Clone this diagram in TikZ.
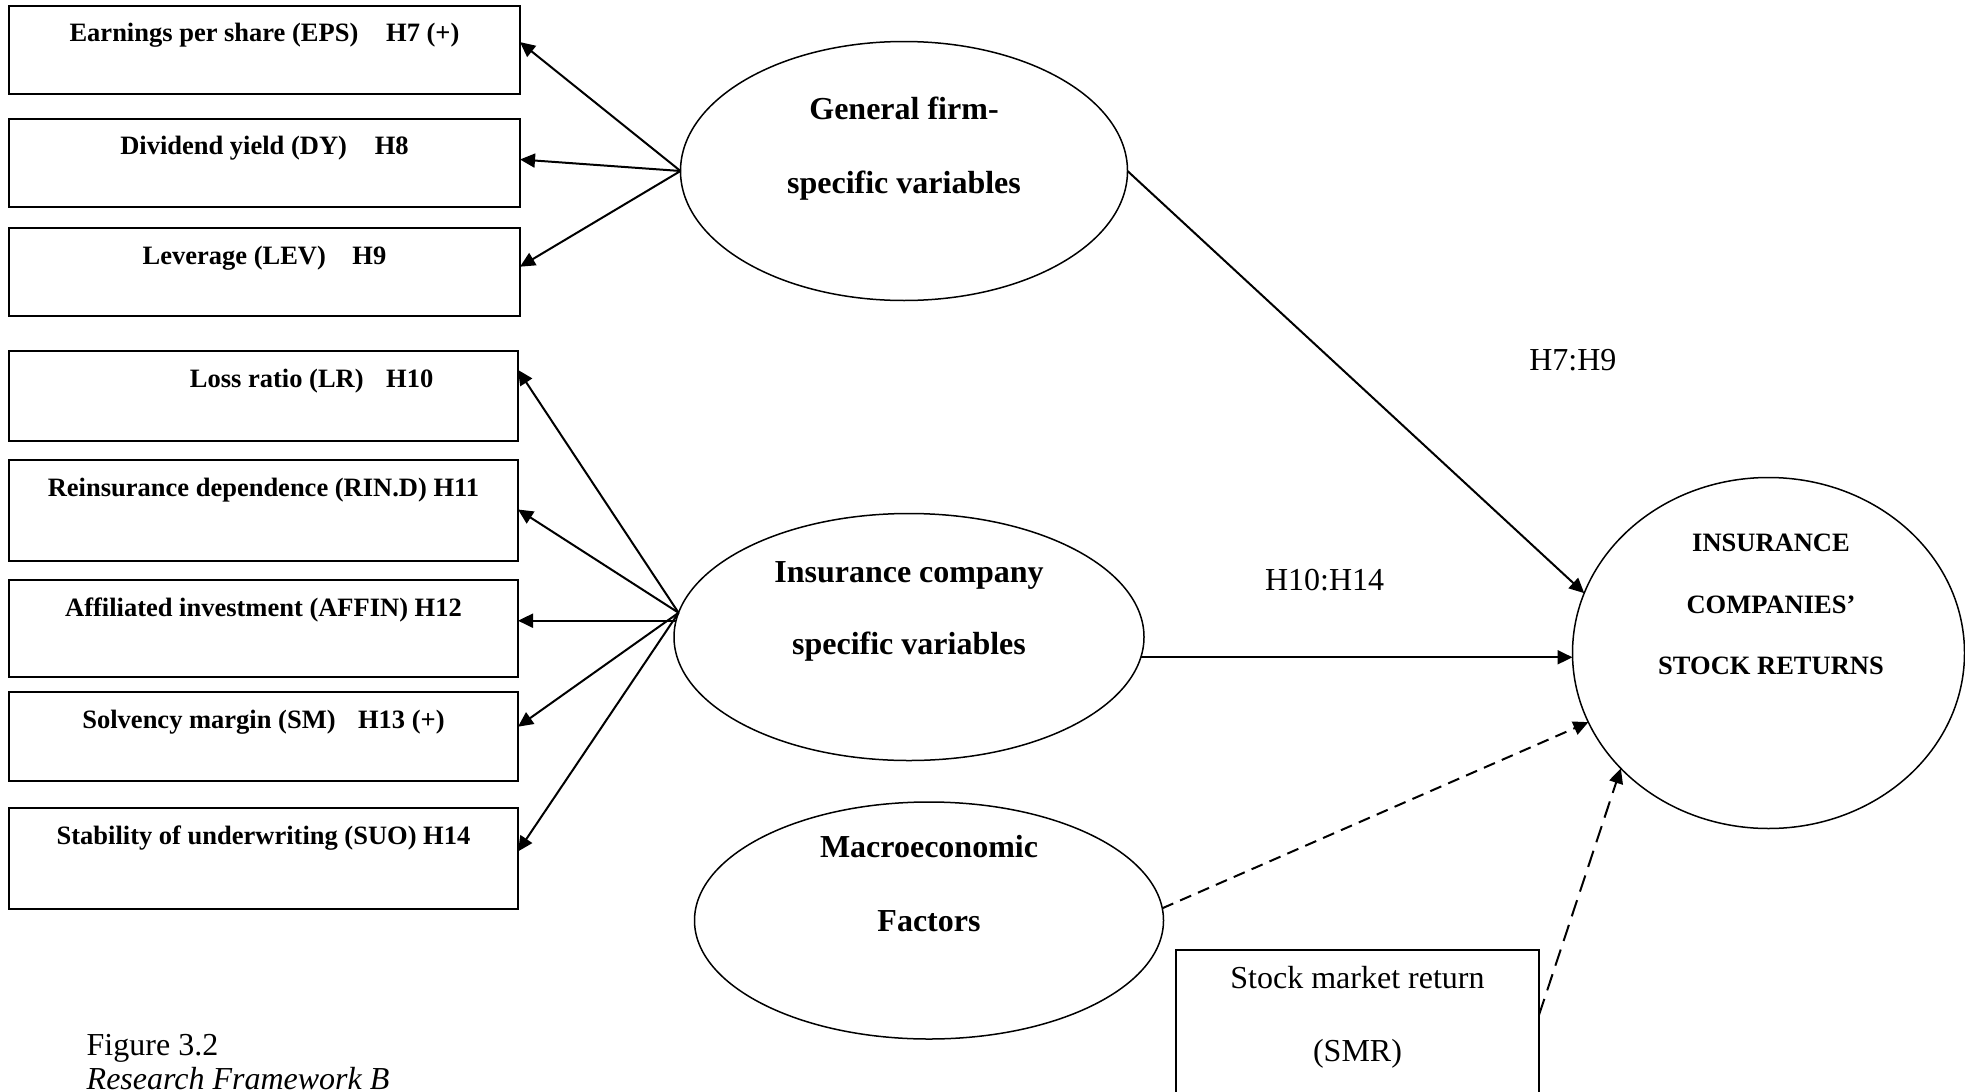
\documentclass[tikz,border=0pt]{standalone}
\usepackage{fontspec}
\setmainfont{Liberation Serif}
\usetikzlibrary{shapes.geometric,arrows.meta,calc}

\tikzset{
  varbox/.style={draw, line width=2.2pt, rectangle, inner sep=0pt, outer sep=0pt, anchor=north west},
  oval/.style={draw, line width=1.5pt, ellipse, inner sep=0pt, outer sep=0pt},
  boxtxt/.style={font=\fontsize{26.5}{32}\selectfont\bfseries, anchor=base, inner sep=0pt},
  bigtxt/.style={font=\fontsize{32}{38}\selectfont\bfseries, anchor=base, inner sep=0pt},
  plaintxt/.style={font=\fontsize{32}{38}\selectfont, anchor=base, inner sep=0pt},
  link/.style={line width=2pt, -{Triangle[length=15pt,width=14pt]}},
  dlinkshort/.style={link, dash pattern=on 12pt off 7.5pt},
  dlinklong/.style={link, dash pattern=on 17pt off 9pt},
}

\begin{document}
\begin{tikzpicture}[x=1pt, y=-1pt]
\useasboundingbox[fill=white] (0,0) rectangle (1965,1092);

% variable boxes on the left
\node[varbox, minimum width=511pt, minimum height=88pt]  (eps)   at (9,6)   {};
\node[varbox, minimum width=511pt, minimum height=88pt]  (dy)    at (9,119) {};
\node[varbox, minimum width=511pt, minimum height=88pt]  (lev)   at (9,228) {};
\node[varbox, minimum width=509pt, minimum height=90pt]  (lr)    at (9,351) {};
\node[varbox, minimum width=509pt, minimum height=101pt] (rin)   at (9,460) {};
\node[varbox, minimum width=509pt, minimum height=97pt]  (affin) at (9,580) {};
\node[varbox, minimum width=509pt, minimum height=89pt]  (sm)    at (9,692) {};
\node[varbox, minimum width=509pt, minimum height=101pt] (suo)   at (9,808) {};

\node[boxtxt] (eps-t)   at (264.5,41.7)  {Earnings per share (EPS)\hspace{1.05em}H7 (+)};
\node[boxtxt] (dy-t)    at (264.5,154.3) {Dividend yield (DY)\hspace{1.05em}H8};
\node[boxtxt] (lev-t)   at (264.5,264.5) {Leverage (LEV)\hspace{1em}H9};
\node[boxtxt] (lr-t)    at (311.6,387.3) {Loss ratio (LR)\hspace{0.85em}H10};
\node[boxtxt] (rin-t)   at (263.5,496)   {Reinsurance dependence (RIN.D) H11};
\node[boxtxt] (affin-t) at (263.5,616.5) {Affiliated investment (AFFIN) H12};
\node[boxtxt] (sm-t)    at (263.5,728.5) {Solvency margin (SM)\hspace{0.85em}H13 (+)};
\node[boxtxt] (suo-t)   at (263.5,844)   {Stability of underwriting (SUO) H14};

% latent constructs
\node[oval, minimum width=447pt, minimum height=259pt] (gen) at (904,171)     {};
\node[oval, minimum width=470pt, minimum height=247pt] (ins) at (909,637)     {};
\node[oval, minimum width=469pt, minimum height=237pt] (mac) at (929,920.5)   {};
\node[oval, minimum width=392pt, minimum height=351pt] (ret) at (1768.5,653)  {};

\node[bigtxt] (gen-a) at (904,119.5)   {General firm-};
\node[bigtxt] (gen-b) at (904,193)     {specific variables};
\node[bigtxt] (ins-a) at (909,582)     {Insurance company};
\node[bigtxt] (ins-b) at (909,654.5)   {specific variables};
\node[bigtxt] (mac-a) at (929,857.6)   {Macroeconomic};
\node[bigtxt] (mac-b) at (929,931.6)   {Factors};
\node[boxtxt] (ret-a) at (1771,551.7)  {INSURANCE};
\node[boxtxt] (ret-b) at (1771,613.3)  {COMPANIES’};
\node[boxtxt] (ret-c) at (1771,674.3)  {STOCK RETURNS};

% stock market return box
\node[varbox, line width=2pt, minimum width=363pt, minimum height=200pt] (smr) at (1176,950) {};
\node[plaintxt] (smr-a) at (1357.5,988)  {Stock market return};
\node[plaintxt] (smr-b) at (1357.5,1061) {(SMR)};

% path labels
\node[plaintxt] (h79)   at (1572.8,370)   {H7:H9};
\node[plaintxt] (h1014) at (1324.6,590.7) {H10:H14};

% caption
\node[plaintxt, anchor=base west] (fig)   at (86.5,1055) {Figure 3.2};
\node[plaintxt, anchor=base west, font=\fontsize{32}{38}\selectfont\itshape] (title) at (86.5,1089) {Research Framework B};

% general firm-specific indicators
\draw[link] (gen.west) -- ($(eps.north east)!0.41!(eps.south east)$);
\draw[link] (gen.west) -- ($(dy.north east)!0.46!(dy.south east)$);
\draw[link] (gen.west) -- ($(lev.north east)!0.44!(lev.south east)$);

% insurance company indicators
\draw[link] (ins.174) -- ($(lr.north east)!0.21!(lr.south east)$);
\draw[link] (ins.174) -- ($(rin.north east)!0.49!(rin.south east)$);
\draw[link] (ins.176) -- (ins.176 -| affin.east);
\draw[link] (ins.174) -- ($(sm.north east)!0.39!(sm.south east)$);
\draw[link] (ins.174) -- ($(suo.north east)!0.43!(suo.south east)$);

% paths to stock returns
\draw[link] (gen.east) -- (ret.162);
\draw[link] (ins.-5) -- (ins.-5 -| ret.west);
\draw[dlinkshort] (mac.3) -- (ret.201);
\draw[dlinklong] ([yshift=-65pt]smr.north east) -- (ret.218);
\end{tikzpicture}
\end{document}
